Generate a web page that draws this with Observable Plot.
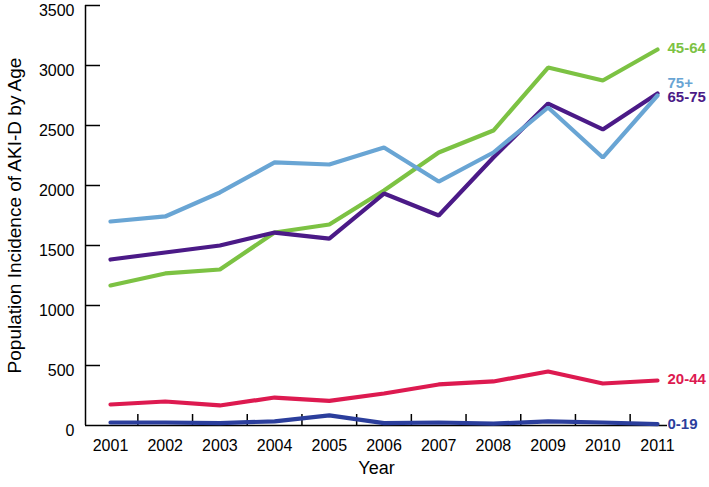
<!DOCTYPE html>
<html>
<head>
<meta charset="utf-8">
<script src="https://cdn.jsdelivr.net/npm/d3@7"></script>
<script src="https://cdn.jsdelivr.net/npm/@observablehq/plot@0.6"></script>
<style>
  html, body { margin: 0; padding: 0; background: white; }
</style>
</head>
<body>
<div id="chart"></div>
<script>
const years = [2001, 2002, 2003, 2004, 2005, 2006, 2007, 2008, 2009, 2010, 2011];
const seriesNames = ["0-19", "20-44", "45-64", "65-75", "75+"];
const age0_19  = [25, 25, 20, 35, 85, 20, 25, 15, 35, 25, 12];
const age20_44 = [175, 200, 167, 233, 205, 267, 342, 367, 450, 350, 375];
const age45_64 = [1167, 1267, 1300, 1608, 1675, 1958, 2275, 2458, 2983, 2875, 3133];
const age65_75 = [1383, 1442, 1500, 1608, 1558, 1933, 1750, 2233, 2683, 2467, 2767];
const age75p   = [1700, 1742, 1942, 2192, 2175, 2317, 2033, 2275, 2650, 2233, 2750];
const yTicks = [0, 500, 1000, 1500, 2000, 2500, 3000, 3500];
const yTitle = "Population Incidence of AKI-D by Age";
const xTitle = "Year";

const colors = ["#2b3e9c", "#dd1a50", "#7cc243", "#4b1a87", "#69a5d4"];
const labelShift = {"0-19": 0, "20-44": -1, "45-64": -1, "65-75": 4, "75+": -12};

const seriesValues = [age0_19, age20_44, age45_64, age65_75, age75p];
const rows = seriesNames.flatMap((s, k) => years.map((yr, i) => ({series: s, year: yr, value: seriesValues[k][i]})));
const lastRows = seriesNames.map((s, k) => ({series: s, year: years[years.length - 1], value: seriesValues[k][years.length - 1]}));
const betweenYears = years.slice(0, -1).map(y => y + 0.5);

const W = 709, H = 487, mL = 85, mR = 42, mT = 5, mB = 62;
const tickLen = 15, xTickLen = 11;

const chart = Plot.plot({
  width: W,
  height: H,
  marginTop: mT,
  marginBottom: mB,
  marginLeft: mL,
  marginRight: mR,
  x: {domain: [2001, 2011], insetLeft: 25, insetRight: 10},
  y: {domain: [0, 3500]},
  color: {domain: seriesNames, range: colors},
  style: {fontFamily: "'Liberation Sans', Helvetica, Arial, sans-serif", background: "white", color: "black", overflow: "visible"},
  marks: [
    Plot.axisY({ticks: yTicks, tickSize: 0, tickPadding: 11, tickFormat: d => String(d), fontSize: 16, dy: 5, label: null}),
    Plot.axisX({ticks: years, tickSize: 0, tickPadding: 14, tickFormat: d => String(d), fontSize: 16, label: null}),
    Plot.ruleY(yTicks.slice(1), {y: d => d, insetRight: (W - mL - mR) - tickLen, stroke: "black", strokeWidth: 1.5}),
    Plot.ruleX(betweenYears, {x: d => d, insetTop: (H - mT - mB) - xTickLen, stroke: "black", strokeWidth: 1.5}),
    Plot.ruleY([0], {stroke: "black", strokeWidth: 1.5}),
    Plot.ruleX([2001], {dx: -25, stroke: "black", strokeWidth: 1.5}),
    Plot.line(rows, {x: "year", y: "value", z: "series", stroke: "series", strokeWidth: 4.2, strokeLinecap: "round", strokeLinejoin: "miter"}),
    ...seriesNames.map(s => Plot.text(lastRows.filter(d => d.series === s), {
      x: "year", y: "value", text: "series", fill: "series",
      dx: 10, dy: labelShift[s], textAnchor: "start", fontWeight: "bold", fontSize: 15
    })),
    Plot.text([xTitle], {frameAnchor: "bottom", dy: 48, fontSize: 18, fill: "black"}),
    Plot.text([yTitle], {frameAnchor: "left", textAnchor: "middle", rotate: -90, dx: -71, fontSize: 19, fill: "black"})
  ]
});
document.getElementById("chart").appendChild(chart);
</script>
</body>
</html>
